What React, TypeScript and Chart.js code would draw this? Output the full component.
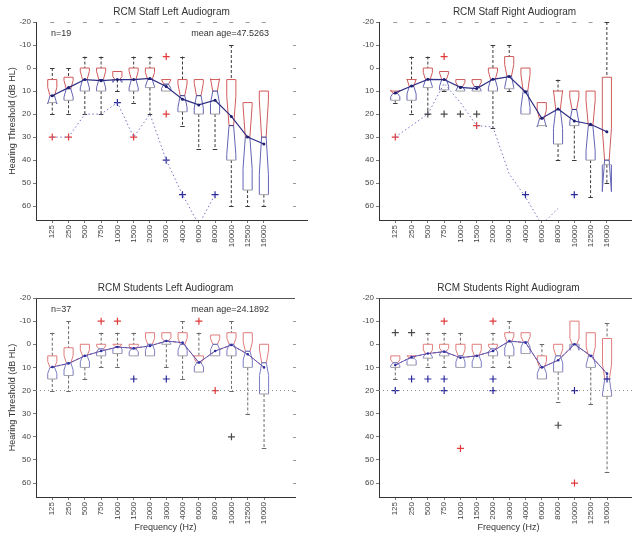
import React, { useEffect, useRef } from "react";
import { Chart, registerables } from "chart.js";

Chart.register(...registerables);

const FONT = "'Liberation Sans', Arial, Helvetica, sans-serif";

// ---------- shared axis data ----------
const freqLabels = ["125", "250", "500", "750", "1000", "1500", "2000", "3000", "4000", "6000", "8000", "10000", "12500", "16000"];
const yTickValues = [-20, -10, 0, 10, 20, 30, 40, 50, 60];
const yMin = -20;
const yMax = 66;
const referenceLevel = [20, 20];

// ---------- RCM Staff – Left ----------
const staffLeftN = 19;
const staffLeftQ1 = [5, 4, 0, 0, 1.5, 0, 0, 5, 5, 5, 5, 5, 15, 10];
const staffLeftMed = [12, 9, 5, 5, 5, 5, 5, 7, 12, 12, 10, 25, 30, 30];
const staffLeftQ3 = [15, 14, 10, 10, 5, 10, 8.5, 10, 19, 20, 20, 40, 53, 55];
const staffLeftLo = [0, 0, -5, -5, 1.5, -5, -5, 5, -5, 5, 5, -10, 15, 10];
const staffLeftHi = [20, 20, 20, 20, 10, 15, 20, 10, 25, 35, 35, 60, 60, 60];
const staffLeftMean = [12, 8.5, 5, 5.5, 5, 5, 4.5, 8, 13.5, 16, 14, 21, 30, 33];
const staffLeftDotted = [30, 30, 20, 20, 15, 30, 20, 40, 55, 68, 55];
const staffLeftOutRed = [[1, 30], [2, 30], [6, 30], [8, -5], [8, 20]];
const staffLeftOutBlue = [[5, 15], [8, 40], [9, 55], [11, 55]];
const staffLeftOutDark: number[][] = [];

// ---------- RCM Staff – Right ----------
const staffRightN = 19;
const staffRightQ1 = [10, 5, 0, 1.5, 5, 5, 0, -5, 0, 15, 10, 10, 10, 4];
const staffRightMed = [11, 8, 5, 5, 8, 8, 5, 3.5, 10, 22, 18, 18, 25, 40];
const staffRightQ3 = [14, 14, 8.5, 9.5, 10, 10, 10, 9, 20, 25, 33, 25, 40, 42];
const staffRightLo = [10, -5, -5, 1.5, 5, 5, -10, -10, 0, 15, 5, 10, 10, -20];
const staffRightHi = [15, 20, 20, 10, 10, 10, 26, 10, 20, 25, 40, 40, 56, 50];
const staffRightMean = [10.8, 7.8, 4.9, 5, 8.4, 8.9, 4.9, 3.7, 10.4, 21.8, 17.8, 23, 24.4, 27.7];
const staffRightDotted = [30, 25, 20, 6.7, 15, 25, 25.6, 46, 56, 68, 61];
const staffRightOutRed = [[1, 30], [4, -5], [6, 25]];
const staffRightOutBlue = [[9, 55], [12, 55]];
const staffRightOutDark = [[3, 20], [4, 20], [5, 20], [6, 20]];

// ---------- RCM Students – Left ----------
const studLeftN = 37;
const studLeftQ1 = [5, 1.5, 0, 0, 0, 0, -5, -5, -5, 5, -4, -5, -5, 0];
const studLeftMed = [10, 8, 5, 2, 1, 2, 0, -1.5, 0, 8, 0, 0, 3, 8];
const studLeftQ3 = [15, 13.5, 10, 5, 4, 5, 5, 0, 5, 12, 5, 5, 10, 21.5];
const studLeftLo = [-5, -10, 0, -5, -5, -5, -5, -5, -10, -5, -4, -10, -5, 0];
const studLeftHi = [20, 20, 15, 10, 10, 5, 5, 10, 15, 12, 5, 20, 30, 45];
const studLeftMean = [9.8, 8.3, 5, 2.9, 1.2, 1.7, 0.7, -1.4, -0.7, 7.9, 2.9, 0.3, 4.3, 10];
const studLeftOutRed = [[4, -10], [5, -10], [10, -10], [11, 20]];
const studLeftOutBlue = [[6, 15], [8, 15]];
const studLeftOutDark = [[12, 40]];

// ---------- RCM Students – Right ----------
const studRightN = 37;
const studRightQ1 = [5, 5, 0, 0, 0, 0, 0, -5, -5, 5, 0, -10, -5, -2.5];
const studRightMed = [8, 6, 4, 3, 5, 5, 2, -1, -1, 10, 5, 0, 5, 15];
const studRightQ3 = [10, 9, 6, 5, 10, 10, 5, 5, 4, 15, 12, 0, 10, 22.5];
const studRightLo = [5, 5, -5, -5, -5, 0, -5, -10, -5, 0, 0, -10, -5, -9];
const studRightHi = [15, 9, 10, 10, 10, 10, 10, 10, 4, 15, 25, 0, 26, 55];
const studRightMean = [9, 5.5, 4, 3.2, 5.8, 5, 2.9, -1.4, -0.7, 10, 6.9, 0, 5, 12.7];
const studRightOutRed = [[4, -10], [5, 45], [7, -10], [12, 60]];
const studRightOutBlue = [[1, 20], [2, 15], [3, 15], [4, 15], [4, 20], [7, 15], [7, 20], [12, 20], [14, 15]];
const studRightOutDark = [[1, -5], [2, -5], [11, 35]];

// ---------- panel definitions ----------
interface Panel {
  key: string;
  title: string;
  n: number;
  q1: number[];
  med: number[];
  q3: number[];
  lo: number[];
  hi: number[];
  mean: number[];
  dotted?: number[];
  outRed: number[][];
  outBlue: number[][];
  outDark: number[][];
  note?: [string, string];
  students: boolean;
  left: number;
  top: number;
  width: number;
  height: number;
  yAxisWidth: number;
  xAxisHeight: number;
  padRight: number;
  xMax: number;
  yTitle: boolean;
  xTitle: boolean;
}

const panels: Panel[] = [
  {
    key: "sl", title: "RCM Staff Left Audiogram", n: staffLeftN,
    q1: staffLeftQ1, med: staffLeftMed, q3: staffLeftQ3, lo: staffLeftLo, hi: staffLeftHi, mean: staffLeftMean,
    dotted: staffLeftDotted, outRed: staffLeftOutRed, outBlue: staffLeftOutBlue, outDark: staffLeftOutDark,
    note: ["n=19", "mean age=47.5263"], students: false,
    left: 0, top: 0, width: 316, height: 276, yAxisWidth: 36, xAxisHeight: 56, padRight: 9, xMax: 16.65, yTitle: true, xTitle: false,
  },
  {
    key: "sr", title: "RCM Staff Right Audiogram", n: staffRightN,
    q1: staffRightQ1, med: staffRightMed, q3: staffRightQ3, lo: staffRightLo, hi: staffRightHi, mean: staffRightMean,
    dotted: staffRightDotted, outRed: staffRightOutRed, outBlue: staffRightOutBlue, outDark: staffRightOutDark,
    students: false,
    left: 316, top: 0, width: 343, height: 276, yAxisWidth: 63, xAxisHeight: 56, padRight: 9, xMax: 16.65, yTitle: false, xTitle: false,
  },
  {
    key: "tl", title: "RCM Students Left Audiogram", n: studLeftN,
    q1: studLeftQ1, med: studLeftMed, q3: studLeftQ3, lo: studLeftLo, hi: studLeftHi, mean: studLeftMean,
    outRed: studLeftOutRed, outBlue: studLeftOutBlue, outDark: studLeftOutDark,
    note: ["n=37", "mean age=24.1892"], students: true,
    left: 0, top: 276, width: 316, height: 260, yAxisWidth: 36, xAxisHeight: 39, padRight: 21, xMax: 15.9, yTitle: true, xTitle: true,
  },
  {
    key: "tr", title: "RCM Students Right Audiogram", n: studRightN,
    q1: studRightQ1, med: studRightMed, q3: studRightQ3, lo: studRightLo, hi: studRightHi, mean: studRightMean,
    outRed: studRightOutRed, outBlue: studRightOutBlue, outDark: studRightOutDark,
    students: true,
    left: 316, top: 276, width: 343, height: 260, yAxisWidth: 63, xAxisHeight: 39, padRight: 21, xMax: 15.9, yTitle: false, xTitle: true,
  },
];

const toPts = (list: number[][]) => list.map(([i, v]) => ({ x: i, y: v }));
const seriesPts = (vals: number[]) => vals.map((v, i) => ({ x: i + 1, y: v }));

function boxPlugin(p: Panel) {
  return {
    id: "boxes_" + p.key,
    beforeDatasetsDraw(chart: any) {
      const { ctx, chartArea: a } = chart;
      const xs = chart.scales.x;
      const ys = chart.scales.y;
      const unit = xs.getPixelForValue(1) - xs.getPixelForValue(0);
      const hw = unit * 0.28;
      const Y = (v: number) => ys.getPixelForValue(v);
      ctx.save();

      // frame decorations
      ctx.lineWidth = 1;
      if (p.students) {
        ctx.strokeStyle = "#555";
        ctx.beginPath();
        ctx.moveTo(a.left, a.top + 0.5);
        ctx.lineTo(Math.min(a.right, a.left + 259), a.top + 0.5);
        ctx.stroke();
      } else {
        ctx.strokeStyle = "#999";
        for (let i = 0; i < freqLabels.length; i++) {
          const cx = xs.getPixelForValue(i + 1);
          ctx.beginPath();
          ctx.moveTo(cx - 2, a.top + 0.5);
          ctx.lineTo(cx + 2, a.top + 0.5);
          ctx.stroke();
        }
      }
      ctx.strokeStyle = "#999";
      const rx = a.left + 259;
      for (const t of yTickValues) {
        if (t === yMin) continue;
        ctx.beginPath();
        ctx.moveTo(rx - 2, Math.round(Y(t)) + 0.5);
        ctx.lineTo(rx + 1, Math.round(Y(t)) + 0.5);
        ctx.stroke();
      }

      ctx.beginPath();
      ctx.rect(a.left, a.top - 1, a.right - a.left, a.bottom - a.top + 2);
      ctx.clip();

      const upperCol = p.students ? "#e07c7c" : "#d05a5a";
      const lowerCol = p.students ? "#7c7cc4" : "#6464b4";
      const edgeCol = "#a0a0a8";
      const whiskerCol = p.students ? "#6a6a6a" : "#3a3a3a";

      for (let i = 0; i < p.med.length; i++) {
        const cx = xs.getPixelForValue(i + 1);
        const q1 = p.q1[i];
        const q3 = p.q3[i];
        const med = p.med[i];
        const notch = (1.57 * (q3 - q1)) / Math.sqrt(p.n);

        // whiskers
        ctx.strokeStyle = whiskerCol;
        ctx.lineWidth = 1;
        ctx.setLineDash([3, 2]);
        if (p.lo[i] < q1) {
          ctx.beginPath();
          ctx.moveTo(cx, Y(p.lo[i]));
          ctx.lineTo(cx, Y(q1));
          ctx.stroke();
        }
        if (p.hi[i] > q3) {
          ctx.beginPath();
          ctx.moveTo(cx, Y(q3));
          ctx.lineTo(cx, Y(p.hi[i]));
          ctx.stroke();
        }
        ctx.setLineDash([]);
        for (const w of [p.lo[i], p.hi[i]]) {
          if (w === q1 || w === q3) continue;
          ctx.beginPath();
          ctx.moveTo(cx - hw * 0.5, Math.round(Y(w)) + 0.5);
          ctx.lineTo(cx + hw * 0.5, Math.round(Y(w)) + 0.5);
          ctx.stroke();
        }

        // notched box: upper part (q1 -> median)
        const yq1 = Y(q1);
        const yq3 = Y(q3);
        const ym = Y(med);
        const yn1 = Y(med - notch);
        const yn3 = Y(med + notch);
        ctx.lineWidth = 1;
        ctx.strokeStyle = upperCol;
        ctx.beginPath();
        ctx.moveTo(cx - hw / 2, ym);
        ctx.lineTo(cx - hw, yn1);
        ctx.lineTo(cx - hw, yq1);
        ctx.lineTo(cx + hw, yq1);
        ctx.lineTo(cx + hw, yn1);
        ctx.lineTo(cx + hw / 2, ym);
        ctx.stroke();
        // lower part (median -> q3)
        ctx.strokeStyle = lowerCol;
        ctx.beginPath();
        ctx.moveTo(cx - hw / 2, ym);
        ctx.lineTo(cx - hw, yn3);
        ctx.lineTo(cx - hw, yq3);
        ctx.moveTo(cx + hw / 2, ym);
        ctx.lineTo(cx + hw, yn3);
        ctx.lineTo(cx + hw, yq3);
        ctx.stroke();
        ctx.strokeStyle = edgeCol;
        ctx.beginPath();
        ctx.moveTo(cx - hw, yq3);
        ctx.lineTo(cx + hw, yq3);
        ctx.stroke();
        // median
        ctx.strokeStyle = p.students ? "#5050a8" : "#2a2a80";
        ctx.beginPath();
        ctx.moveTo(cx - hw / 2, ym);
        ctx.lineTo(cx + hw / 2, ym);
        ctx.stroke();
      }
      ctx.restore();
    },
    afterDatasetsDraw(chart: any) {
      if (!p.note) return;
      const { ctx, chartArea: a } = chart;
      ctx.save();
      ctx.font = `9px ${FONT}`;
      ctx.fillStyle = "#333";
      ctx.textBaseline = "middle";
      ctx.textAlign = "left";
      ctx.fillText(p.note[0], a.left + 15, a.top + 12);
      ctx.textAlign = "right";
      ctx.fillText(p.note[1], a.left + 233, a.top + 12);
      ctx.restore();
    },
  };
}

function buildConfig(p: Panel): any {
  const datasets: any[] = [];
  const cross = (data: number[][], color: string) => ({
    type: "line",
    data: toPts(data),
    showLine: false,
    pointStyle: "cross",
    pointRadius: 3.5,
    pointBorderWidth: 1.2,
    borderColor: color,
    backgroundColor: color,
  });
  if (p.dotted) {
    datasets.push({
      type: "line",
      data: seriesPts(p.dotted),
      borderColor: "#7474c4",
      borderWidth: 1,
      borderDash: [1.5, 2.5],
      pointRadius: 0,
    });
  }
  if (p.students) {
    datasets.push({
      type: "line",
      data: [{ x: 0, y: referenceLevel[0] }, { x: p.xMax, y: referenceLevel[1] }],
      borderColor: "#8a8a8a",
      borderWidth: 1,
      borderDash: [1, 3],
      pointRadius: 0,
    });
    datasets.push({
      type: "line",
      data: seriesPts(p.mean),
      borderColor: "#5a5ab8",
      borderWidth: 1,
      pointRadius: 1.3,
      pointBackgroundColor: "#3030a0",
      pointBorderWidth: 0,
    });
    datasets.push({
      type: "line",
      data: seriesPts(p.mean),
      borderColor: "#e04a4a",
      borderWidth: 1,
      borderDash: [3, 2],
      pointRadius: 0,
    });
  } else {
    datasets.push({
      type: "line",
      data: seriesPts(p.mean),
      borderColor: "#2e2e84",
      borderWidth: 1.2,
      pointRadius: 1.5,
      pointBackgroundColor: "#1e1e70",
      pointBorderWidth: 0,
    });
  }
  datasets.push(cross(p.outDark, "#4a4a4a"));
  datasets.push(cross(p.outBlue, "#2a2a9c"));
  datasets.push(cross(p.outRed, "#e03a3a"));

  return {
    type: "line",
    data: { datasets },
    options: {
      animation: false,
      responsive: false,
      devicePixelRatio: 1,
      layout: { padding: { left: 0, right: p.padRight, top: 0, bottom: 0 } },
      plugins: {
        legend: { display: false },
        tooltip: { enabled: false },
        title: {
          display: true,
          text: p.title,
          fullSize: false,
          color: "#333",
          font: { family: FONT, size: 10, weight: "normal", lineHeight: 1.2 },
          padding: { top: 6, bottom: 4 },
        },
      },
      scales: {
        x: {
          type: "linear",
          min: 0,
          max: p.xMax,
          afterBuildTicks: (s: any) => {
            s.ticks = freqLabels.map((_, i) => ({ value: i + 1 }));
          },
          afterFit: (s: any) => {
            s.height = p.xAxisHeight;
          },
          ticks: {
            autoSkip: false,
            minRotation: 90,
            maxRotation: 90,
            padding: 2,
            color: "#444",
            font: { family: FONT, size: 8 },
            callback: (v: any) => freqLabels[Number(v) - 1] ?? "",
          },
          grid: { display: true, drawOnChartArea: false, drawTicks: true, tickLength: 3, color: "#777" },
          border: { display: true, color: "#333", width: 1 },
          title: {
            display: p.xTitle,
            text: "Frequency (Hz)",
            color: "#333",
            font: { family: FONT, size: 9, lineHeight: 1.2 },
            padding: { top: 0, bottom: 3 },
          },
        },
        y: {
          type: "linear",
          reverse: true,
          min: yMin,
          max: yMax,
          afterBuildTicks: (s: any) => {
            s.ticks = yTickValues.map((v) => ({ value: v }));
          },
          afterFit: (s: any) => {
            s.width = p.yAxisWidth;
          },
          ticks: {
            padding: 2,
            color: "#444",
            font: { family: FONT, size: 8 },
            callback: (v: any) => String(v),
          },
          grid: { display: true, drawOnChartArea: false, drawTicks: true, tickLength: 3, color: "#777" },
          border: { display: true, color: "#333", width: 1 },
          title: {
            display: p.yTitle,
            text: "Hearing Threshold (dB HL)",
            color: "#333",
            font: { family: FONT, size: 9, lineHeight: 1.2 },
            padding: { top: 7, bottom: 0 },
          },
        },
      },
    },
    plugins: [boxPlugin(p)],
  };
}

function PanelChart({ p }: { p: Panel }) {
  const ref = useRef<HTMLCanvasElement>(null);
  useEffect(() => {
    if (!ref.current) return;
    const chart = new Chart(ref.current, buildConfig(p));
    return () => chart.destroy();
  }, [p]);
  return (
    <canvas
      ref={ref}
      width={p.width}
      height={p.height}
      style={{ position: "absolute", left: p.left, top: p.top, width: p.width, height: p.height }}
    />
  );
}

export default function App() {
  useEffect(() => {
    document.body.style.margin = "0";
    document.body.style.background = "#fff";
  }, []);
  return (
    <div style={{ position: "relative", width: 632, height: 536, overflow: "hidden", background: "#fff" }}>
      {panels.map((p) => (
        <PanelChart key={p.key} p={p} />
      ))}
    </div>
  );
}
